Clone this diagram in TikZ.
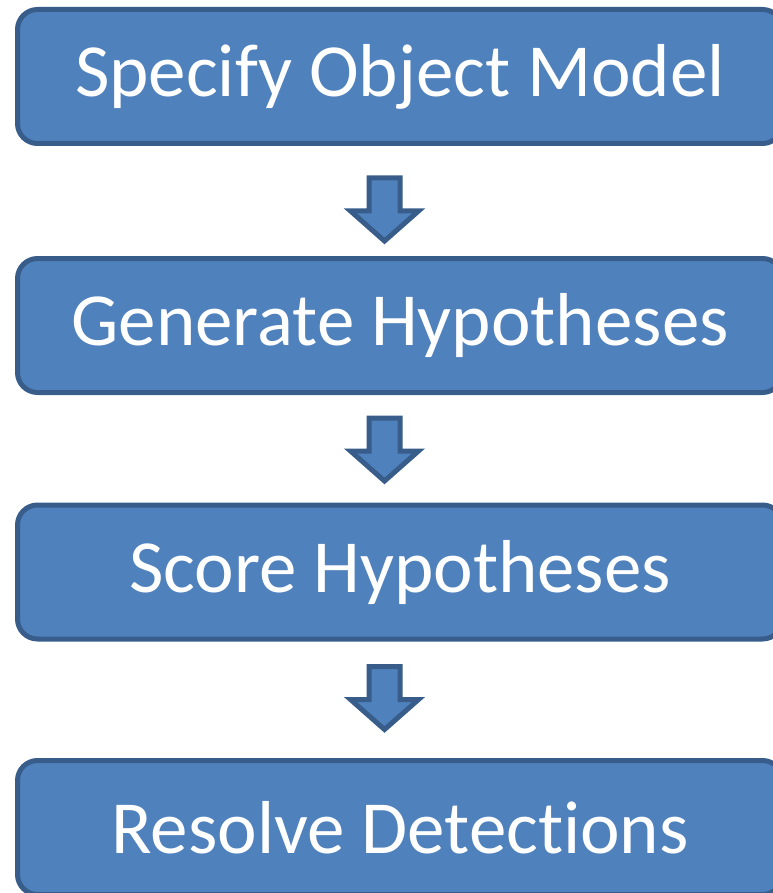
\documentclass[tikz,border=0pt]{standalone}
\usepackage{fontspec}
\setmainfont{Carlito}[Ligatures={NoCommon}]
\usetikzlibrary{calc}
\definecolor{boxfill}{HTML}{4F81BD}
\definecolor{boxline}{HTML}{385D8A}
\tikzset{
  stepbox/.style={draw=boxline, fill=boxfill, line width=5pt, rounded corners=20pt,
    minimum width=765pt, minimum height=134pt, inner sep=0pt, text=white,
    font=\fontsize{75}{90}\selectfont},
  arrowshape/.style={draw=boxline, fill=boxfill, line width=5pt, line join=miter}
}
% block arrow below a box: #1 box, #2 gap
\newcommand{\nextarrow}[2]{%
  \draw[arrowshape] ($(#1.south)+(-31,#2)$) -- ++(31,0) -- ++(0,33) -- ++(18.5,0)
    -- ++(-34,30) -- ++(-34,-30) -- ++(18.5,0) -- cycle;}
\begin{document}
\begin{tikzpicture}[x=1pt,y=-1pt]
	\useasboundingbox (0,0) rectangle (772,893);
	% Boxes
	\node[stepbox] (model) at (400,76.5) {\raisebox{-5pt}{Specify Object Model}};
	\node[stepbox] (hypo) at (400,325.5) {\raisebox{-5pt}{Generate Hypotheses}};
	\node[stepbox] (score) at (400,572) {\raisebox{-5pt}{Score Hypotheses}};
	\node[stepbox] (resolve) at (400,827.5) {\raisebox{-5pt}{Resolve Detections}};
	% Arrows
	\nextarrow{model}{32}
	\nextarrow{hypo}{23}
	\nextarrow{score}{25}
\end{tikzpicture}
\end{document}
